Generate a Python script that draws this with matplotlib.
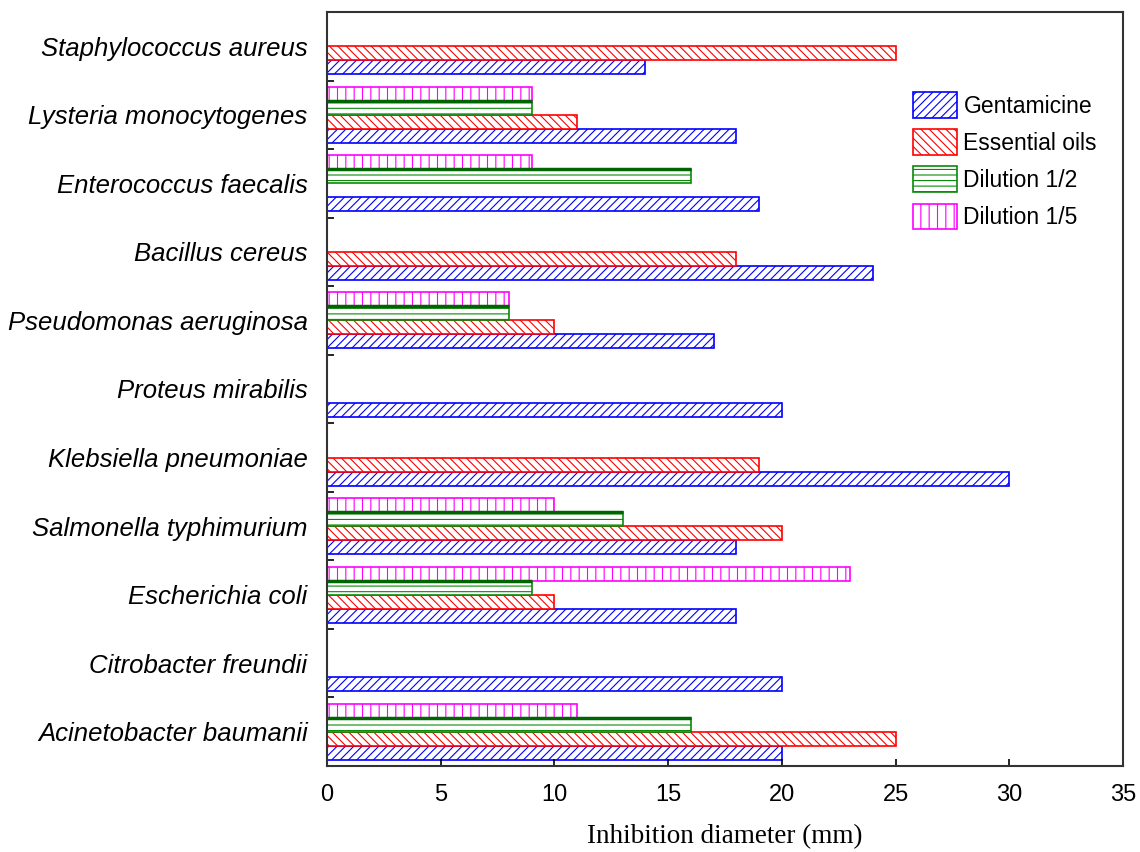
import matplotlib
matplotlib.use("Agg")
import matplotlib.pyplot as plt
import numpy as np

categories = ["Acinetobacter baumanii", "Citrobacter freundii", "Escherichia coli",
              "Salmonella typhimurium", "Klebsiella pneumoniae", "Proteus mirabilis",
              "Pseudomonas aeruginosa", "Bacillus cereus", "Enterococcus faecalis",
              "Lysteria monocytogenes", "Staphylococcus aureus"]
gentamicine    = [20, 20, 18, 18, 30, 20, 17, 24, 19, 18, 14]
essential_oils = [25, 0, 10, 20, 19, 0, 10, 18, 0, 11, 25]
dilution_1_2   = [16, 0, 9, 13, 0, 0, 8, 0, 16, 9, 0]
dilution_1_5   = [11, 0, 23, 10, 0, 0, 8, 0, 9, 9, 0]
series_names = ["Gentamicine", "Essential oils", "Dilution 1/2", "Dilution 1/5"]
x_ticks = [0, 5, 10, 15, 20, 25, 30, 35]

plt.rcParams['hatch.linewidth'] = 0.8
SANS = ["Liberation Sans", "DejaVu Sans"]

fig = plt.figure(figsize=(11.4, 8.52), dpi=100)
ax = fig.add_axes([327/1140, 1-766/852, (1123-327)/1140, (766-12)/852])

y = np.arange(len(categories))
h = 0.204
series = [gentamicine, essential_oils, dilution_1_2, dilution_1_5]
edges = ["#0000ff", "#ff0000", "#0a8a0a", "#ff00ff"]
hatches = ["////", "\\\\\\\\", "---", "||"]
offsets = [-1.5, -0.5, 0.5, 1.5]
for vals, name, ec, ht, off in zip(series, series_names, edges, hatches, offsets):
    ax.barh(y + off*h, vals, height=h, facecolor="white", edgecolor=ec,
            hatch=ht, linewidth=1.2, label=name)

# darker, thicker top edge on the Dilution 1/2 bars
d12 = np.array(dilution_1_2, dtype=float)
mask = d12 > 0
ax.hlines(y[mask] + 0.5*h + h/2, 0, d12[mask], colors="#006400", linewidth=2.5)

ax.set_xlim(0, 35)
ax.set_ylim(-0.5, len(categories)-0.5)
ax.set_xticks(x_ticks)
ax.set_xticklabels([str(v) for v in x_ticks], fontsize=17, family=SANS)
ax.set_yticks(y)
ax.set_yticklabels(categories, fontsize=18.5, style="italic", family=SANS)
ax.set_yticks(y + 0.5, minor=True)
ax.tick_params(axis="y", which="major", length=0, pad=14)
ax.tick_params(axis="y", which="minor", length=5, direction="in", width=1.2)
ax.tick_params(axis="x", which="major", length=5, direction="in", width=1.2, pad=13)
for s in ax.spines.values():
    s.set_linewidth(1.5)
    s.set_color("#333333")

ax.set_xlabel("Inhibition diameter (mm)", fontsize=19.5,
              family=["Liberation Serif", "DejaVu Serif"], labelpad=13)

leg = ax.legend(loc="upper left", bbox_to_anchor=((913-327)/796, (766-92)/754),
                frameon=False, handlelength=1.92, handleheight=1.35,
                borderaxespad=0, borderpad=0, labelspacing=0.5, handletextpad=0.28,
                prop={"family": SANS, "size": 16.5})

fig.savefig("out.png", dpi=100)
